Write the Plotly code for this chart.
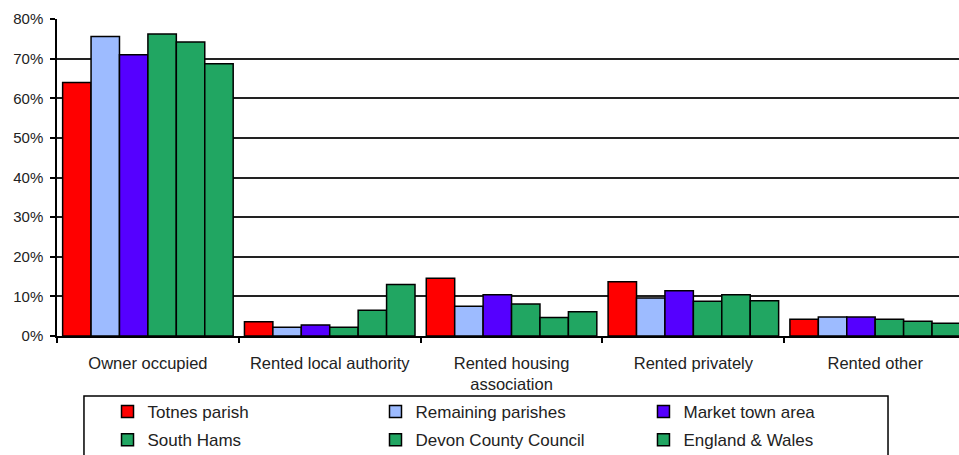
import plotly.graph_objects as go

categories = ["Owner occupied", "Rented local authority", "Rented housing<br>association",
              "Rented privately", "Rented other"]
series_names = ["Totnes parish", "Remaining parishes", "Market town area",
                "South Hams", "Devon County Council", "England & Wales"]
totnes = [64.0, 3.6, 14.6, 13.7, 4.2]
remaining = [75.6, 2.2, 7.5, 9.6, 4.8]
market_town = [71.0, 2.8, 10.4, 11.4, 4.8]
south_hams = [76.2, 2.2, 8.1, 8.8, 4.2]
devon = [74.2, 6.5, 4.7, 10.4, 3.7]
england_wales = [68.7, 13.0, 6.1, 8.9, 3.2]
y_ticks = [0, 10, 20, 30, 40, 50, 60, 70, 80]
y_tick_labels = ["0%", "10%", "20%", "30%", "40%", "50%", "60%", "70%", "80%"]

colors = ["#FF0000", "#9DBBFF", "#5500FF", "#21A662", "#21A662", "#21A662"]
legend_ids = ["legend", "legend2", "legend3", "legend", "legend2", "legend3"]
all_values = [totnes, remaining, market_town, south_hams, devon, england_wales]

FONT = "Liberation Sans, Arial, sans-serif"

fig = go.Figure()
for name, vals, col, lg in zip(series_names, all_values, colors, legend_ids):
    fig.add_trace(go.Bar(
        x=categories, y=vals, name=name, legend=lg, legendgroup=name,
        marker=dict(color=col, line=dict(color="black", width=1.5)),
    ))

legend_common = dict(
    orientation="v", yanchor="top", y=-0.183, xanchor="left",
    font=dict(family=FONT, size=17, color="#222"),
    bgcolor="rgba(0,0,0,0)", borderwidth=0, tracegroupgap=3,
    traceorder="grouped",
)

# plot area: x 57..959, y 19..336
fig.update_layout(
    width=959, height=455,
    margin=dict(l=57, r=0, t=19, b=119, autoexpand=False),
    paper_bgcolor="white", plot_bgcolor="white",
    barmode="group", bargap=0.062, bargroupgap=0,
    font=dict(family=FONT, size=15, color="#222"),
    showlegend=True,
    legend=dict(x=0.056, **legend_common),
    legend2=dict(x=0.3531, **legend_common),
    legend3=dict(x=0.6502, **legend_common),
    xaxis=dict(
        type="category", range=[-0.5, 4.461],
        showline=True, linecolor="black", linewidth=1.5,
        ticks="outside", tickson="boundaries", ticklen=5, tickcolor="black",
        tickwidth=1.5, showgrid=False, ticklabelstandoff=11,
        tickfont=dict(family=FONT, size=16.5, color="#222"),
    ),
    yaxis=dict(
        range=[0, 80], tickmode="array", tickvals=y_ticks, ticktext=y_tick_labels,
        showline=True, linecolor="black", linewidth=1.5,
        ticks="outside", ticklen=5, tickcolor="black", tickwidth=1.5,
        showgrid=True, gridcolor="#222", gridwidth=1.5, zeroline=False,
        ticklabelstandoff=4,
        tickfont=dict(family=FONT, size=15, color="#222"),
    ),
    shapes=[dict(type="rect", xref="paper", yref="paper",
                 x0=0.0299, x1=0.9213, y0=-0.1893, y1=-0.40,
                 line=dict(color="black", width=1.5), fillcolor="rgba(0,0,0,0)",
                 layer="above")],
)

fig.write_html("out.html", config={"displayModeBar": False},
               post_script="document.body.style.margin='0';")
